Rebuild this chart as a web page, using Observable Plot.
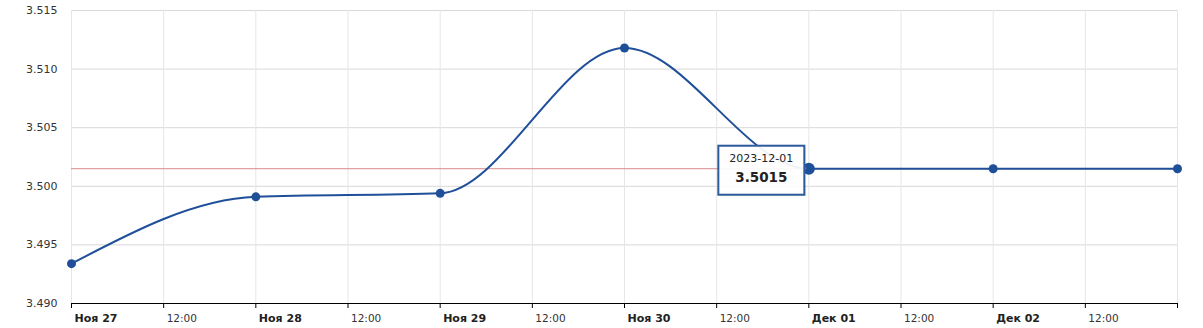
<!DOCTYPE html>
<html>
<head>
<meta charset="utf-8">
<script src="https://cdn.jsdelivr.net/npm/d3@7"></script>
<script src="https://cdn.jsdelivr.net/npm/@observablehq/plot@0.6"></script>
<style>
  html, body { margin: 0; padding: 0; background: #fff; }
  svg { display: block; }
</style>
</head>
<body>
<div id="chart"></div>
<script>
const dates = ["2023-11-27", "2023-11-28", "2023-11-29", "2023-11-30", "2023-12-01", "2023-12-02", "2023-12-03"];
const values = [3.4934, 3.4991, 3.4994, 3.5118, 3.5015, 3.5015, 3.5015];
const yTicks = [3.490, 3.495, 3.500, 3.505, 3.510, 3.515];
const monthNames = ["Янв", "Фев", "Мар", "Апр", "Май", "Июн", "Июл", "Авг", "Сен", "Окт", "Ноя", "Дек"];
const hoverIndex = 4;

const data = dates.map((d, i) => ({date: new Date(d + "T00:00:00Z"), value: values[i]}));
const hovered = data[hoverIndex];

const xStart = data[0].date;
const xEnd = data[data.length - 1].date;
const allTicks = d3.utcHour.every(12).range(xStart, new Date(+xEnd + 1));
const labelTicks = allTicks.filter(d => +d < +xEnd);
const dayTicks = labelTicks.filter(d => d.getUTCHours() === 0);
const noonTicks = labelTicks.filter(d => d.getUTCHours() !== 0);
const dayFmt = d => monthNames[d.getUTCMonth()] + " " + String(d.getUTCDate()).padStart(2, "0");
const lineColor = "#1f4f99";

const plot = Plot.plot({
  width: 1203,
  height: 328,
  marginLeft: 71,
  marginRight: 26,
  marginTop: 10,
  marginBottom: 25,
  style: {fontFamily: "'DejaVu Sans', Verdana, sans-serif", fontSize: "10px", color: "#333", background: "#fff"},
  x: {type: "utc", domain: [xStart, xEnd]},
  y: {type: "linear", domain: [3.490, 3.515]},
  marks: [
    Plot.gridY(yTicks, {stroke: "#d8d8d8", strokeOpacity: 1}),
    Plot.gridX(allTicks, {stroke: "#e6e6e6", strokeOpacity: 1}),
    Plot.axisY(yTicks, {tickSize: 0, tickPadding: 14, tickFormat: d3.format(".3f"), fontSize: 11, fill: "#333", label: null}),
    Plot.ruleY([hovered.value], {stroke: "#d88a8a", strokeWidth: 1}),
    Plot.ruleY([3.490], {stroke: "#000", strokeWidth: 1}),
    Plot.axisX(allTicks, {tickSize: 5, stroke: "#000", strokeOpacity: 1, tickFormat: () => "", label: null}),
    Plot.axisX(dayTicks, {tickSize: 0, tickPadding: 11, tickFormat: dayFmt, textAnchor: "start", dx: 3, fontWeight: "bold", fontSize: 11, fill: "#222", label: null}),
    Plot.axisX(noonTicks, {tickSize: 0, tickPadding: 11, tickFormat: () => "12:00", textAnchor: "start", dx: 3, fontSize: 10.5, fill: "#333", label: null}),
    Plot.line(data, {x: "date", y: "value", curve: "monotone-x", stroke: lineColor, strokeWidth: 2}),
    Plot.dot(data, {x: "date", y: "value", r: 4.5, fill: lineColor, stroke: null}),
    Plot.dot([hovered], {x: "date", y: "value", r: 6, fill: lineColor, stroke: null})
  ]
});

document.getElementById("chart").appendChild(plot);

// Tooltip anchored to the hovered point using Plot's own scales
const xs = plot.scale("x");
const ys = plot.scale("y");
const px = xs.apply(hovered.date);
const py = ys.apply(hovered.value);
const svg = d3.select(plot);
const boxW = 86, boxH = 49, gap = 4;
const bx = px - gap - boxW, by = py - boxH / 2 + 2;
const g = svg.append("g");
g.append("rect")
  .attr("x", bx + 1.5).attr("y", by + 1.5).attr("width", boxW).attr("height", boxH)
  .attr("fill", "rgba(0,0,0,0.08)");
g.append("path")
  .attr("d", `M${bx + boxW - 1},${py - 6} L${px - 2},${py} L${bx + boxW - 1},${py + 6}`)
  .attr("fill", "#fff").attr("stroke", "#2c5a9b").attr("stroke-width", 1.5).attr("opacity", 0.9);
g.append("rect")
  .attr("x", bx).attr("y", by).attr("width", boxW).attr("height", boxH)
  .attr("fill", "rgba(255,255,255,0.93)").attr("stroke", "#2c5a9b").attr("stroke-width", 2);
g.append("text")
  .attr("x", bx + boxW / 2).attr("y", by + 16)
  .attr("text-anchor", "middle").attr("font-size", 11).attr("fill", "#222")
  .text(dates[hoverIndex]);
g.append("text")
  .attr("x", bx + boxW / 2).attr("y", by + 36)
  .attr("text-anchor", "middle").attr("font-size", 13.5).attr("font-weight", "bold").attr("fill", "#222")
  .text(hovered.value.toFixed(4));
</script>
</body>
</html>
